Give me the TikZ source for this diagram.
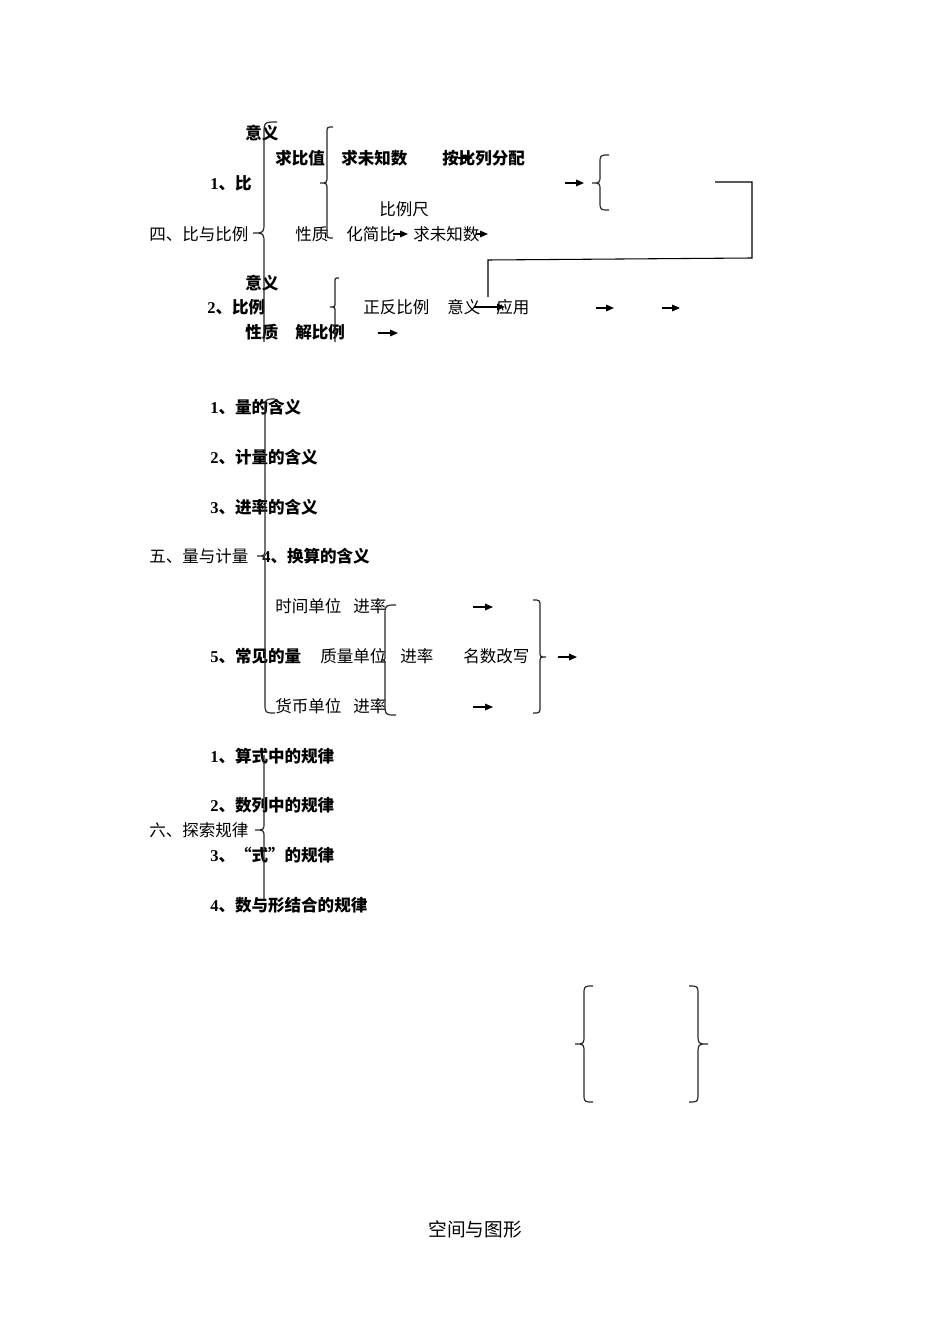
\documentclass[tikz,border=0pt]{standalone}
\usepackage{fontspec}
\setmainfont{Liberation Serif}
\newfontfamily\cjk{Noto Sans CJK SC}
\usetikzlibrary{arrows.meta}
\newcommand\nm[1]{{\rmfamily #1}}
% left brace: x, ytop, ymid, ybot, curl, tip
\newcommand\LBr[6]{\draw[brc] (#1+#5,#2) .. controls (#1,#2) .. (#1,#2+#5) -- (#1,#3-#6) .. controls (#1,#3) .. (#1-#6,#3) .. controls (#1,#3) .. (#1,#3+#6) -- (#1,#4-#5) .. controls (#1,#4) .. (#1+#5,#4);}
\newcommand\RBr[6]{\draw[brc] (#1-#5,#2) .. controls (#1,#2) .. (#1,#2+#5) -- (#1,#3-#6) .. controls (#1,#3) .. (#1+#6,#3) .. controls (#1,#3) .. (#1,#3+#6) -- (#1,#4-#5) .. controls (#1,#4) .. (#1-#5,#4);}
\newcommand\LBrOpen[6]{\draw[brc] (#1+#5,#2) .. controls (#1,#2) .. (#1,#2+#5) -- (#1,#3-#6) .. controls (#1,#3) .. (#1-#6,#3) .. controls (#1,#3) .. (#1,#3+#6) -- (#1,#4);}
\tikzset{
  lbl/.style={anchor=west, inner sep=0pt, font=\cjk\fontsize{12.4}{14}\selectfont},
  blbl/.style={anchor=west, inner sep=0pt, font=\cjk\bfseries\fontsize{12.4}{14}\selectfont},
  brc/.style={line width=0.9pt, draw=black!85},
  arr/.style={line width=0.8pt, -{Triangle[length=6pt,width=5pt]}},
  conn/.style={line width=0.8pt}
}
\begin{document}
\begin{tikzpicture}[x=0.75pt,y=-0.75pt]
\useasboundingbox (0,0) rectangle (950,1344);
% ---------- Section 4 ----------
\node[blbl] (yy1) at (245,133) {意义};
\node[blbl] (qbz) at (275,158) {求比值};
\node[blbl] (qwz1) at (341,158) {求未知数};
\node[blbl] (abl) at (442,158) {按比列分配};
\node[blbl] (b1) at (210,183) {\nm{1}、比};
\node[lbl] (blc) at (379,209) {比例尺};
\node[lbl] (s4) at (149,234) {四、比与比例};
\node[lbl] (xz1) at (295,234) {性质};
\node[lbl] (hjb) at (346,234) {化简比};
\node[lbl] (qwz2) at (413,234) {求未知数};
\node[blbl] (yy2) at (245,283) {意义};
\node[blbl] (bl2) at (207,307) {\nm{2}、比例};
\node[lbl] (zfbl) at (363,307) {正反比例};
\node[lbl] (yy3) at (447,307) {意义};
\node[lbl] (yyong) at (496,307) {应用};
\node[blbl] (xz2) at (245,332) {性质};
\node[blbl] (jbl) at (295,332) {解比例};

\LBrOpen{264}{122}{233}{342}{13}{11}
\LBr{327}{127}{183}{238}{6}{7}
\LBrOpen{335}{278}{307}{342}{4}{5}
\LBr{600}{155}{183}{210}{9}{8}

\coordinate (a1s) at (458,158); \coordinate (a1e) at (473,158);
\coordinate (a2s) at (565,183); \coordinate (a2e) at (584,183);
\coordinate (a3s) at (393,234); \coordinate (a3e) at (408,234);
\coordinate (a4s) at (476,234); \coordinate (a4e) at (488,234);
\coordinate (a5s) at (474,307); \coordinate (a5e) at (505,307);
\coordinate (a6s) at (596,308); \coordinate (a6e) at (614,308);
\coordinate (a7s) at (662,308); \coordinate (a7e) at (680,308);
\coordinate (a8s) at (378,333); \coordinate (a8e) at (398,333);
\foreach \i in {1,...,8} {\draw[arr] (a\i s) -- (a\i e);}

\coordinate (c1) at (715,182); \coordinate (c2) at (752,182);
\coordinate (c3) at (752,258); \coordinate (c4) at (488,260);
\coordinate (c5) at (488,297);
\draw[conn] (c1) -- (c2) -- (c3) -- (c4) -- (c5);

% ---------- Section 5 ----------
\node[blbl] (l1) at (210,407) {\nm{1}、量的含义};
\node[blbl] (l2) at (210,457) {\nm{2}、计量的含义};
\node[blbl] (l3) at (210,507) {\nm{3}、进率的含义};
\node[lbl] (s5) at (149,556) {五、量与计量};
\node[blbl] (l4) at (262,556) {\nm{4}、换算的含义};
\node[lbl] (sj) at (275,606) {时间单位};
\node[lbl] (jl1) at (353,606) {进率};
\node[blbl] (l5) at (210,656) {\nm{5}、常见的量};
\node[lbl] (zl) at (320,656) {质量单位};
\node[lbl] (jl2) at (400,656) {进率};
\node[lbl] (ms) at (463,656) {名数改写};
\node[lbl] (hb) at (275,706) {货币单位};
\node[lbl] (jl3) at (353,706) {进率};

\LBr{265}{399}{556}{713}{10}{8}
\LBr{385}{605}{660}{715}{11}{4}
\RBr{540}{600}{657}{713}{7}{6}

\coordinate (b1s) at (473,607); \coordinate (b1e) at (493,607);
\coordinate (b2s) at (473,707); \coordinate (b2e) at (493,707);
\coordinate (b3s) at (558,657); \coordinate (b3e) at (577,657);
\foreach \i in {1,2,3} {\draw[arr] (b\i s) -- (b\i e);}

% ---------- Section 6 ----------
\node[blbl] (g1) at (210,756) {\nm{1}、算式中的规律};
\node[blbl] (g2) at (210,805) {\nm{2}、数列中的规律};
\node[lbl] (s6) at (149,830) {六、探索规律};
\node[blbl] (g3) at (210,855) {\nm{3}、“式”的规律};
\node[blbl] (g4) at (210,905) {\nm{4}、数与形结合的规律};

\draw[brc] (264,755) -- (264,822) .. controls (264,830) .. (255,830) .. controls (264,830) .. (264,838) -- (264,900);

% ---------- bottom ----------
\LBr{584}{986}{1044}{1102}{9}{9}
\RBr{698}{986}{1044}{1102}{9}{10}

\node[anchor=center, inner sep=0pt, font=\cjk\fontsize{14}{16}\selectfont] (title) at (475,1229) {空间与图形};
\end{tikzpicture}
\end{document}
